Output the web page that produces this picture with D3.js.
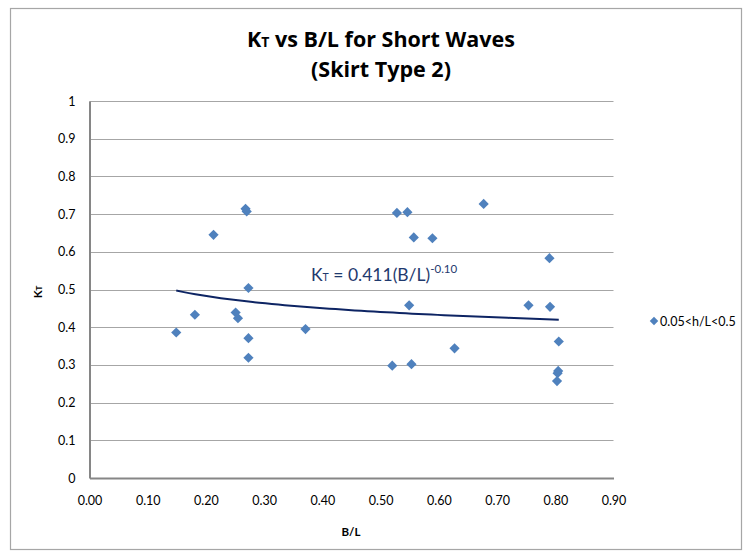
<!DOCTYPE html>
<html>
<head>
<meta charset="utf-8">
<script src="https://cdn.jsdelivr.net/npm/d3@7"></script>
<style>
  html, body { margin: 0; padding: 0; background: #fff; }
  svg { display: block; }
  text { font-family: Lato, "Open Sans", "Liberation Sans", sans-serif; }
</style>
</head>
<body>
<svg id="chart" width="743" height="552"></svg>
<script>
// ---- data ----
const seriesName = "0.05<h/L<0.5";
const bl = [0.149, 0.181, 0.213, 0.268, 0.270, 0.273, 0.251, 0.255, 0.273, 0.273,
            0.371, 0.528, 0.546, 0.557, 0.589, 0.677, 0.790, 0.549, 0.754, 0.791,
            0.627, 0.520, 0.553, 0.806, 0.805, 0.804, 0.803];
const kt = [0.386, 0.433, 0.645, 0.714, 0.707, 0.504, 0.439, 0.424, 0.371, 0.319,
            0.395, 0.703, 0.705, 0.638, 0.636, 0.727, 0.583, 0.458, 0.458, 0.454,
            0.344, 0.298, 0.302, 0.362, 0.284, 0.278, 0.257];
const xTicks = [0, 0.1, 0.2, 0.3, 0.4, 0.5, 0.6, 0.7, 0.8, 0.9];
const yTicks = [0, 0.1, 0.2, 0.3, 0.4, 0.5, 0.6, 0.7, 0.8, 0.9, 1];
const trendCoef = [0.411];
const trendExp = [-0.10];

// ---- layout ----
const svg = d3.select("#chart");
const x = d3.scaleLinear().domain([0, 0.9]).range([89.5, 613.5]);
const y = d3.scaleLinear().domain([0, 1]).range([478, 101]);

// outer frame
svg.append("rect").attr("x", 10.5).attr("y", 8.5).attr("width", 731).attr("height", 541)
  .attr("fill", "#fff").attr("stroke", "#a6a6a6").attr("stroke-width", 1.2);

// gridlines
svg.append("g").selectAll("line").data(yTicks.filter(d => d > 0)).join("line")
  .attr("x1", x(0)).attr("x2", x(0.9))
  .attr("y1", d => Math.round(y(d)) + 0.5).attr("y2", d => Math.round(y(d)) + 0.5)
  .attr("stroke", "#a6a6a6").attr("stroke-width", 1);

// y axis
const yAxis = d3.axisLeft(y).tickValues(yTicks).tickSize(0).tickPadding(14)
  .tickFormat(d => d === 0 || d === 1 ? d3.format("d")(d) : d3.format(".1f")(d));
const gy = svg.append("g").attr("transform", `translate(${x(0)},0)`).call(yAxis);
gy.select(".domain").attr("stroke", "#868686").attr("stroke-width", 2);
gy.selectAll("text").attr("font-size", 12.5).attr("fill", "#000")
  .style("font-family", "Lato, 'Open Sans', sans-serif");

// x axis
const xAxis = d3.axisBottom(x).tickValues(xTicks).tickSize(0).tickPadding(18)
  .tickFormat(d3.format(".2f"));
const gx = svg.append("g").attr("transform", `translate(0,${y(0)})`).call(xAxis);
gx.select(".domain").attr("stroke", "#868686").attr("stroke-width", 2);
gx.selectAll("text").attr("font-size", 12.5).attr("fill", "#000")
  .style("font-family", "Lato, 'Open Sans', sans-serif");

// trend line (power fit y = a x^b over data range)
const xMin = d3.min(bl), xMax = d3.max(bl);
const trendX = d3.range(0, 61).map(i => xMin + (xMax - xMin) * i / 60);
const line = d3.line().x(d => x(d)).y(d => y(trendCoef[0] * Math.pow(d, trendExp[0])));
svg.append("path").datum(trendX).attr("d", line)
  .attr("fill", "none").attr("stroke", "#0d2463").attr("stroke-width", 2);

// points
svg.append("g").selectAll("path").data(bl.map((d, i) => [d, kt[i]])).join("path")
  .attr("transform", d => `translate(${x(d[0])},${y(d[1])}) rotate(45)`)
  .attr("d", d3.symbol().type(d3.symbolSquare).size(52))
  .attr("fill", "#4f81bd");

// equation
const eq = svg.append("text").attr("x", 311).attr("y", 281).attr("font-size", 17.5)
  .attr("fill", "#1f3a6e");
eq.append("tspan").text("K");
eq.append("tspan").attr("font-size", 10.5).text("T");
eq.append("tspan").text(" = " + trendCoef[0] + "(B/L)");
eq.append("tspan").attr("font-size", 11.5).attr("dy", -8).text(trendExp[0].toFixed(2));

// title
const titleFont = "'Open Sans', Lato, sans-serif";
const t1 = svg.append("text").attr("x", 381).attr("y", 46.5).attr("text-anchor", "middle")
  .attr("font-size", 21.5).attr("font-weight", "bold").attr("fill", "#000")
  .style("font-family", titleFont);
t1.append("tspan").text("K");
t1.append("tspan").attr("font-size", 14).text("T");
t1.append("tspan").text(" vs B/L for Short Waves");
svg.append("text").attr("x", 381).attr("y", 77).attr("text-anchor", "middle")
  .attr("font-size", 21.5).attr("font-weight", "bold").attr("fill", "#000")
  .style("font-family", titleFont)
  .text("(Skirt Type 2)");

// axis titles
svg.append("text").attr("x", 351).attr("y", 536).attr("text-anchor", "middle")
  .attr("font-size", 11.5).attr("font-weight", "bold").text("B/L");
const yt = svg.append("text").attr("transform", "translate(42,292) rotate(-90)")
  .attr("text-anchor", "middle").attr("font-size", 11.5).attr("font-weight", "bold");
yt.append("tspan").text("K");
yt.append("tspan").attr("font-size", 8).text("T");

// legend
svg.append("path").attr("transform", "translate(654,321) rotate(45)")
  .attr("d", d3.symbol().type(d3.symbolSquare).size(36)).attr("fill", "#4f81bd");
svg.append("text").attr("x", 660).attr("y", 325.5).attr("font-size", 12.5).text(seriesName);
</script>
</body>
</html>
